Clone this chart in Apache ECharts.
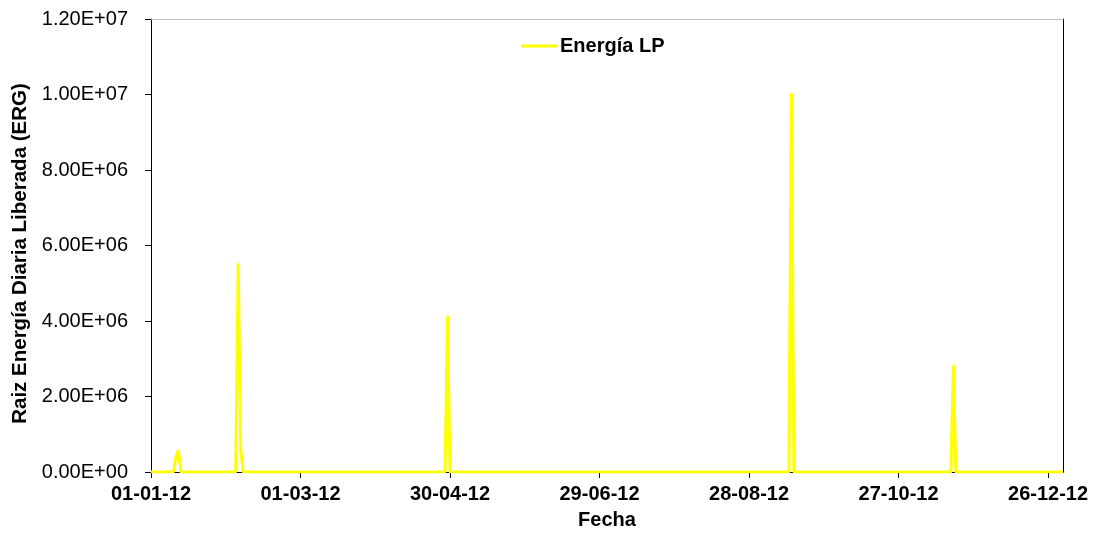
<!DOCTYPE html>
<html>
<head>
<meta charset="utf-8">
<script src="https://cdn.jsdelivr.net/npm/echarts@6/dist/echarts.min.js"></script>
<style>
html,body{margin:0;padding:0;background:#fff;}
#chart{width:1098px;height:537px;}
</style>
</head>
<body>
<div id="chart"></div>
<script>
// Day offsets from 01-01-2012 and the daily energy
var dayIndex = [0, 9, 10, 11, 12, 34, 35, 36, 37, 118, 119, 120, 256, 257, 258, 321, 322, 323, 366];
var energyLP = [0, 0, 4.0e5, 5.8e5, 0, 0, 5.53e6, 6.0e5, 0, 0, 4.14e6, 0, 0, 1.003e7, 0, 0, 2.83e6, 0, 0];
var xTickDays = [0, 60, 120, 180, 240, 300, 360];
var seriesName = 'Energía LP';
var xTitle = 'Fecha';
var yTitle = 'Raiz Energía Diaria Liberada (ERG)';

var baseDate = Date.UTC(2012, 0, 1);
function pad2(n){ return (n < 10 ? '0' : '') + n; }
function dayLabel(d){
  if (xTickDays.indexOf(d) < 0) return '';
  var dt = new Date(baseDate + d * 86400000);
  return pad2(dt.getUTCDate()) + '-' + pad2(dt.getUTCMonth() + 1) + '-' + pad2(dt.getUTCFullYear() % 100);
}
function sciLabel(v){
  if (v === 0) return '0.00E+00';
  var e = Math.floor(Math.log10(v) + 1e-9);
  var m = v / Math.pow(10, e);
  return m.toFixed(2) + 'E' + (e < 0 ? '-' : '+') + pad2(Math.abs(e));
}

var points = dayIndex.map(function(d, i){ return [d, energyLP[i]]; });

var font = 'Liberation Sans, Arial, sans-serif';
var chart = echarts.init(document.getElementById('chart'), null, {renderer: 'canvas'});
chart.setOption({
  animation: false,
  backgroundColor: '#fff',
  grid: {left: 151, right: 35, top: 19, bottom: 65, containLabel: false},
  legend: {
    data: [{name: seriesName, icon: 'rect'}],
    left: 521, top: 36, padding: 0,
    itemWidth: 36, itemHeight: 3, itemGap: 3,
    textStyle: {fontFamily: font, fontSize: 20, fontWeight: 'bold', color: '#000', padding: [0, 0, 0, -2]}
  },
  xAxis: [{
    type: 'value', min: 0, max: 366, interval: 60,
    name: xTitle, nameLocation: 'middle', nameGap: 38,
    nameTextStyle: {fontFamily: font, fontSize: 20, fontWeight: 'bold', color: '#000'},
    axisLine: {show: true, lineStyle: {color: '#000', width: 1}},
    axisTick: {show: true, length: 6, lineStyle: {color: '#000'}},
    axisLabel: {formatter: dayLabel, margin: 12, showMaxLabel: false,
      fontFamily: font, fontSize: 20, fontWeight: 'bold', color: '#000'},
    splitLine: {show: false}
  }, {
    type: 'value', min: 0, max: 366, position: 'top',
    axisLine: {show: true, onZero: false, lineStyle: {color: '#c0c0c0', width: 1}},
    axisTick: {show: false}, axisLabel: {show: false}, splitLine: {show: false}
  }],
  yAxis: [{
    type: 'value', min: 0, max: 1.2e7, interval: 2e6,
    name: yTitle, nameLocation: 'middle', nameGap: 117, nameRotate: 90,
    nameTextStyle: {fontFamily: font, fontSize: 20.5, fontWeight: 'bold', color: '#000', padding: [0, 16, 0, 0]},
    axisLine: {show: true, lineStyle: {color: '#000', width: 1}},
    axisTick: {show: true, length: 6, lineStyle: {color: '#000'}},
    axisLabel: {formatter: sciLabel, margin: 23, fontFamily: font, fontSize: 20, color: '#000'},
    splitLine: {show: false}
  }, {
    type: 'value', min: 0, max: 1.2e7, position: 'right',
    axisLine: {show: true, onZero: false, lineStyle: {color: '#000', width: 1}},
    axisTick: {show: false}, axisLabel: {show: false}, splitLine: {show: false}
  }],
  series: [{
    name: seriesName, type: 'line', data: points,
    symbol: 'none', showSymbol: false,
    lineStyle: {color: '#ffff00', width: 3},
    itemStyle: {color: '#ffff00'},
    z: 3
  }]
});
</script>
</body>
</html>
